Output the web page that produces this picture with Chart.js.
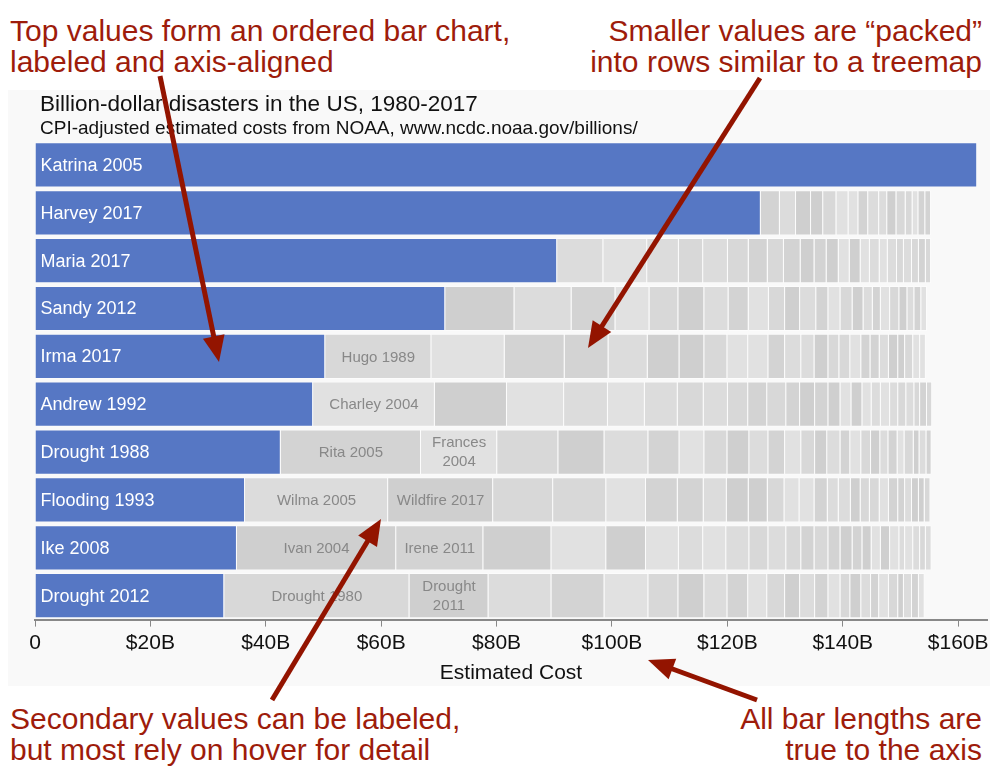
<!DOCTYPE html>
<html>
<head>
<meta charset="utf-8">
<title>Billion-dollar disasters</title>
<script src="https://cdn.jsdelivr.net/npm/chart.js@4"></script>
<style>
  body { margin: 0; background: #fff; overflow: hidden; }
  #page { position: relative; width: 999px; height: 777px; font-family: "Liberation Sans", Arial, sans-serif; }
  .note { position: absolute; font-size: 30px; line-height: 31px; color: #9e1c0b; white-space: nowrap; }
  .note.right { text-align: right; }
  #panel { position: absolute; left: 8px; top: 90px; width: 982px; height: 596px; background: #f9f9f9; }
  #chartBox { position: absolute; left: 8px; top: 90px; width: 990px; height: 596px; }
  #title { position: absolute; left: 40px; top: 93px; font-size: 22.5px; line-height: 22px; color: #111; white-space: nowrap; }
  #subtitle { position: absolute; left: 40px; top: 118px; font-size: 19px; line-height: 19px; color: #111; white-space: nowrap; }
  #arrows { position: absolute; left: 0; top: 0; pointer-events: none; }
</style>
</head>
<body>
<div id="page">
  <div class="note" style="left:10px; top:15px">Top values form an ordered bar chart,<br>labeled and axis-aligned</div>
  <div class="note right" style="right:17px; top:15px">Smaller values are “packed”<br>into rows similar to a treemap</div>

  <div id="panel"></div>
  <div id="chartBox"><canvas id="chart"></canvas></div>
  <div id="title">Billion-dollar disasters in the US, 1980-2017</div>
  <div id="subtitle">CPI-adjusted estimated costs from NOAA, www.ncdc.noaa.gov/billions/</div>

  <div class="note" style="left:10px; top:703px">Secondary values can be labeled,<br>but most rely on hover for detail</div>
  <div class="note right" style="right:17px; top:703px">All bar lengths are<br>true to the axis</div>

  <svg id="arrows" width="999" height="777"></svg>
</div>

<script>
// top disaster per row (blue bars), costs in $B
const topNames = ["Katrina 2005", "Harvey 2017", "Maria 2017", "Sandy 2012", "Irma 2017",
                  "Andrew 1992", "Drought 1988", "Flooding 1993", "Ike 2008", "Drought 2012"];
const topCosts = [163.3, 125.8, 90.5, 71.1, 50.3, 48.2, 42.6, 36.4, 35.0, 32.8];

// smaller disasters packed into each row, left to right ($B)
const packedKatrina = [];
const packedHarvey = [3.3, 2.8, 2.6, 2.1, 2.3, 2.1, 1.7, 1.7, 1.9, 1.4, 1.6, 1.6, 1.2, 1.0, 1.2, 1.0];
const packedMaria = [8.0, 7.6, 5.5, 4.2, 4.3, 3.6, 3.3, 2.8, 2.9, 2.4, 2.1, 2.1, 1.9, 1.9, 1.6, 1.7, 1.4, 1.6, 1.2, 1.4, 1.2, 1.2, 0.9];
const packedSandy = [12.0, 9.9, 7.6, 5.9, 5.0, 4.5, 4.2, 3.5, 3.5, 2.8, 2.6, 2.8, 2.1, 2.1, 2.1, 1.9, 1.6, 1.4, 1.6, 1.6, 1.4, 1.2, 1.2, 1.0];
const packedIrma = [18.4, 12.7, 10.4, 7.6, 6.8, 5.5, 4.3, 4.0, 3.6, 3.5, 2.9, 2.8, 2.3, 2.4, 1.9, 1.9, 1.9, 1.6, 1.6, 1.6, 1.6, 1.2, 1.4, 1.2, 1.0];
const packedAndrew = [21.1, 12.5, 9.9, 7.6, 6.4, 5.7, 4.5, 4.2, 3.5, 3.3, 3.3, 2.4, 2.6, 2.3, 2.1, 1.9, 1.9, 1.6, 1.6, 1.6, 1.4, 1.4, 1.4, 1.0, 1.2, 0.9];
const packedDrought88 = [24.3, 13.2, 10.6, 8.0, 7.6, 5.4, 4.3, 4.0, 3.8, 3.3, 2.9, 2.8, 2.4, 2.1, 2.3, 1.7, 1.9, 1.7, 1.6, 1.4, 1.6, 1.2, 1.6, 1.0, 1.2, 0.9];
const packedFlood93 = [24.8, 18.2, 10.4, 9.2, 6.9, 5.5, 4.5, 4.0, 3.8, 3.3, 2.9, 2.6, 2.6, 2.3, 1.9, 2.1, 1.7, 1.6, 1.7, 1.6, 1.6, 1.2, 1.2, 1.2, 1.0, 1.0];
const packedIke = [27.6, 15.1, 11.8, 9.5, 6.9, 5.7, 4.2, 4.0, 4.0, 3.3, 3.1, 2.6, 2.3, 2.4, 2.1, 2.1, 1.7, 1.6, 1.6, 1.6, 1.6, 1.0, 1.4, 1.2, 1.0, 1.0];
const packedDrought12 = [32.1, 13.7, 10.9, 9.2, 7.6, 5.2, 4.5, 4.0, 3.6, 3.3, 3.1, 2.6, 2.6, 2.3, 2.1, 1.7, 1.9, 1.7, 1.4, 1.7, 1.6, 1.0, 1.4, 1.2, 1.0];

// names shown on the first packed segments of a row
const packedLabels = [[], [], [], [], ["Hugo 1989"], ["Charley 2004"], ["Rita 2005", "Frances 2004"],
                      ["Wilma 2005", "Wildfire 2017"], ["Ivan 2004", "Irene 2011"], ["Drought 1980", "Drought 2011"]];

const costTicks = [0, 20, 40, 60, 80, 100, 120, 140, 160];

const FONT = '"Liberation Sans", Arial, sans-serif';
const rows = [packedKatrina, packedHarvey, packedMaria, packedSandy, packedIrma,
              packedAndrew, packedDrought88, packedFlood93, packedIke, packedDrought12];
const greys = ['#e1e1e1', '#dcdcdc', '#d8d8d8', '#d3d3d3', '#cfcfcf'];

let datasets = [{
    label: 'Top',
    data: topCosts,
    backgroundColor: '#5677c4',
    borderColor: 'rgba(255,255,255,0.35)',
    borderWidth: 1
}];
let maxSegs = Math.max(...rows.map(r => r.length));
for (let k = 0; k < maxSegs; k++) {
    datasets.push({
        label: 'Packed ' + (k + 1),
        data: rows.map(r => k < r.length ? r[k] : null),
        backgroundColor: rows.map((r, i) => greys[(i * 3 + k * 7 + (i * k) % 3) % 5]),
        borderColor: 'rgba(255,255,255,0.5)',
        borderWidth: 1
    });
}

// names inside the bars
const barLabels = {
    id: 'barLabels',
    afterDatasetsDraw(chart) {
        let ctx = chart.ctx;
        ctx.save();
        ctx.textBaseline = 'middle';
        ctx.font = '18px ' + FONT;
        ctx.fillStyle = '#fff';
        ctx.textAlign = 'left';
        chart.getDatasetMeta(0).data.forEach((bar, i) => {
            ctx.fillText(topNames[i], Math.min(bar.base, bar.x) + 5, bar.y + 1);
        });
        ctx.font = '15px ' + FONT;
        ctx.fillStyle = '#888';
        ctx.textAlign = 'center';
        packedLabels.forEach((names, i) => {
            names.forEach((name, k) => {
                let bar = chart.getDatasetMeta(k + 1).data[i];
                let left = Math.min(bar.base, bar.x);
                let w = Math.abs(bar.x - bar.base);
                let cx = left + w / 2;
                if (ctx.measureText(name).width > w - 12) {
                    let parts = name.split(' ');
                    ctx.fillText(parts[0], cx, bar.y - 9);
                    ctx.fillText(parts.slice(1).join(' '), cx, bar.y + 10);
                } else {
                    ctx.fillText(name, cx, bar.y + 1);
                }
            });
        });
        ctx.restore();
    }
};

new Chart(document.getElementById('chart'), {
    type: 'bar',
    data: { labels: topNames, datasets: datasets },
    options: {
        indexAxis: 'y',
        responsive: true,
        maintainAspectRatio: false,
        animation: false,
        barPercentage: 0.945,
        categoryPercentage: 1,
        layout: { padding: { top: 51, left: 27, right: 11, bottom: 0 } },
        plugins: {
            legend: { display: false },
            title: { display: false }
        },
        scales: {
            x: {
                stacked: true,
                min: 0,
                max: 165,
                afterBuildTicks: axis => { axis.ticks = costTicks.map(v => ({ value: v })); },
                ticks: {
                    font: { size: 21, family: FONT },
                    color: '#111',
                    padding: 4,
                    maxRotation: 0,
                    autoSkip: false,
                    callback: v => v === 0 ? '0' : '$' + v + 'B'
                },
                grid: { drawOnChartArea: false, tickLength: 7, color: '#888' },
                border: { color: '#888', width: 2 },
                title: {
                    display: true,
                    text: 'Estimated Cost',
                    font: { size: 21, family: FONT },
                    color: '#111',
                    padding: { top: 1, bottom: 0 }
                }
            },
            y: { stacked: true, display: false }
        }
    },
    plugins: [barLabels]
});

// annotation arrows
const arrowColor = '#931400';
const arrowList = [
    [160, 76, 219, 362],
    [760, 78, 588, 348],
    [272, 700, 381, 519],
    [757, 700, 648, 660]
];
let svg = document.getElementById('arrows');
let ns = 'http://www.w3.org/2000/svg';
arrowList.forEach(a => {
    let [x1, y1, x2, y2] = a;
    let dx = x2 - x1, dy = y2 - y1;
    let len = Math.hypot(dx, dy);
    let ux = dx / len, uy = dy / len;
    let head = 26, half = 11;
    let bx = x2 - ux * head, by = y2 - uy * head;
    let line = document.createElementNS(ns, 'line');
    line.setAttribute('x1', x1); line.setAttribute('y1', y1);
    line.setAttribute('x2', bx + ux * 2); line.setAttribute('y2', by + uy * 2);
    line.setAttribute('stroke', arrowColor);
    line.setAttribute('stroke-width', 5);
    svg.appendChild(line);
    let tri = document.createElementNS(ns, 'polygon');
    tri.setAttribute('points', [x2, y2, bx - uy * half, by + ux * half, bx + uy * half, by - ux * half].join(' '));
    tri.setAttribute('fill', arrowColor);
    svg.appendChild(tri);
});
</script>
</body>
</html>
